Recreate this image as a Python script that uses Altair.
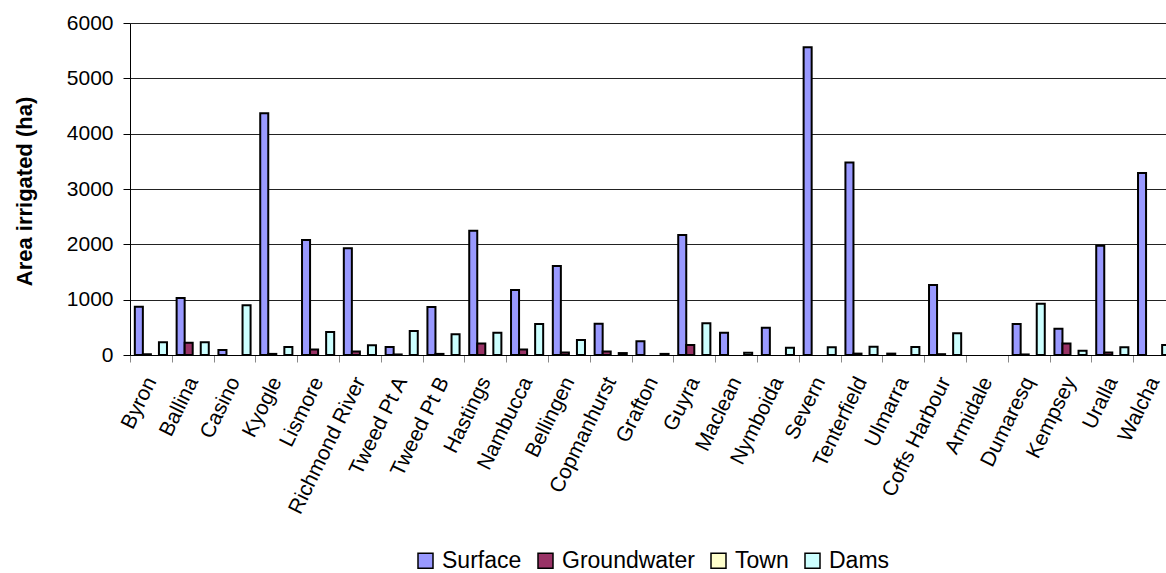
import altair as alt
import pandas as pd

# Irrigated area by source for each water management area
regions = ["Byron", "Ballina", "Casino", "Kyogle", "Lismore", "Richmond River",
           "Tweed Pt A", "Tweed Pt B", "Hastings", "Nambucca", "Bellingen",
           "Copmanhurst", "Grafton", "Guyra", "Maclean", "Nymboida", "Severn",
           "Tenterfield", "Ulmarra", "Coffs Harbour", "Armidale", "Dumaresq",
           "Kempsey", "Uralla", "Walcha"]

surface = [870, 1030, 90, 4370, 2080, 1930, 145, 867, 2245, 1175, 1610, 566,
           250, 2170, 404, 494, 5560, 3478, 25, 1265, 0, 560, 476, 1976, 3290]
groundwater = [15, 220, 0, 20, 100, 65, 10, 20, 210, 100, 45, 65,
               0, 180, 0, 0, 0, 25, 0, 15, 0, 10, 210, 45, 0]
town = [0] * 25
dams = [230, 230, 900, 145, 416, 175, 434, 373, 404, 560, 271, 35,
        20, 572, 40, 130, 140, 150, 145, 392, 0, 928, 75, 140, 180]

sources = ["Surface", "Groundwater", "Town", "Dams"]
colors = ["#9999FF", "#993366", "#FFFFCC", "#CCFFFF"]

rows = []
for name, vals in zip(sources, [surface, groundwater, town, dams]):
    for region, v in zip(regions, vals):
        if v > 0:
            rows.append({"region": region, "source": name, "area": v})
df = pd.DataFrame(rows)

FONT = "Liberation Sans"

chart = alt.Chart(df).mark_bar(stroke="black", strokeWidth=2).encode(
    x=alt.X("region:N", sort=regions,
            scale=alt.Scale(domain=regions, range=[0, 1045],
                            paddingInner=0, paddingOuter=0),
            axis=alt.Axis(title=None, labelAngle=-64, labelFontSize=21,
                          labelFont=FONT, labelColor="black", labelPadding=16,
                          tickBand="extent", tickSize=7, tickColor="#888888",
                          domainColor="black", domainWidth=1, grid=False)),
    xOffset=alt.XOffset("source:N",
                        scale=alt.Scale(domain=sources, paddingInner=0,
                                        paddingOuter=0.6)),
    y=alt.Y("area:Q",
            scale=alt.Scale(domain=[0, 6000], nice=False),
            axis=alt.Axis(title="Area irrigated (ha)", values=[0, 1000, 2000, 3000, 4000, 5000, 6000],
                          format="d",
                          titleFont=FONT, titleFontSize=22, titleFontWeight="bold",
                          titleColor="black", titleAngle=-90, titleAlign="center",
                          titleBaseline="middle", titleX=-106, titleY=168,
                          labelFont=FONT, labelFontSize=21, labelColor="black",
                          labelPadding=10, tickSize=7, tickColor="black",
                          domainColor="black", domainWidth=1,
                          grid=True, gridColor="#222222", gridWidth=1)),
    color=alt.Color("source:N",
                    scale=alt.Scale(domain=sources, range=colors),
                    legend=alt.Legend(title=None, orient="none", direction="horizontal",
                                      legendX=284, legendY=526, padding=0,
                                      symbolType="square", symbolSize=225,
                                      symbolStrokeColor="black", symbolStrokeWidth=1.5,
                                      symbolOpacity=1, labelFont=FONT, labelFontSize=23,
                                      labelColor="black", labelOffset=5,
                                      columnPadding=12)),
).properties(
    width=1036,
    height=332,
    autosize=alt.AutoSizeParams(type="none"),
    padding={"left": 130, "top": 23, "right": 0, "bottom": 218},
).configure_view(stroke=None).configure(background="white")

chart.save("out.html", embed_options={"renderer": "svg", "actions": False})
